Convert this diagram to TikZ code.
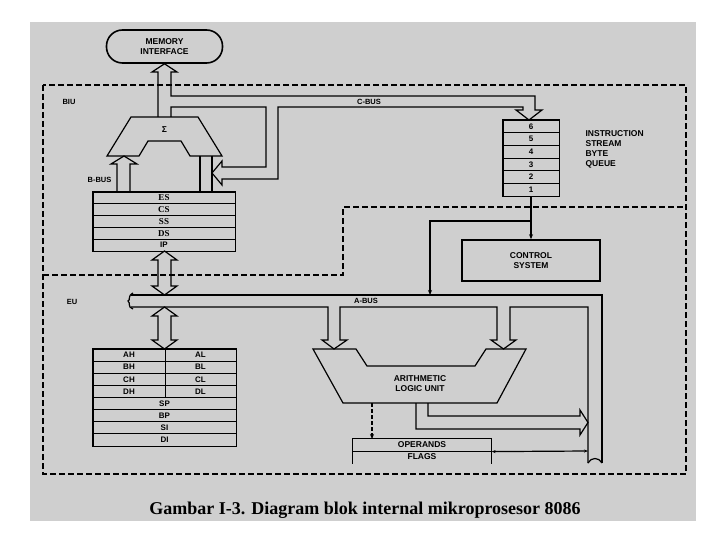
\documentclass[tikz,border=0pt]{standalone}
\usepackage{fontspec}
\setmainfont{Liberation Serif}
\setsansfont{Liberation Sans}
\usetikzlibrary{arrows.meta}
\definecolor{scanbg}{gray}{0.81}
\begin{document}
\begin{tikzpicture}[x=1pt,y=-1pt,line width=1.2pt,
    txt/.style={font=\sffamily\bfseries\fontsize{8.5}{10}\selectfont,inner sep=0pt,align=center},
    small/.style={font=\sffamily\bfseries\fontsize{7.5}{8}\selectfont,inner sep=0pt},
    reg/.style={draw,line width=0.8pt,inner sep=0pt,minimum height=11.8pt,font=\sffamily\bfseries\fontsize{8}{9}\selectfont},
    box/.style={draw,line width=1.6pt,inner sep=0pt,align=center,font=\sffamily\bfseries\fontsize{8.5}{10}\selectfont},
    arr/.style={-{Stealth[length=5pt,width=4pt]}},
    zone/.style={dash pattern=on 6pt off 3pt,line width=1.1pt}]
  \useasboundingbox (0,0) rectangle (720,540);
  \fill[scanbg] (30,22) rectangle (696,521);

  % BIU and EU
  \draw[zone] (43,85) rectangle (686,474);
  \draw[zone] (43,275) -- (343,275) -- (343,207) -- (686,207);
  \node[small] (biu) at (69,102) {BIU};
  \node[small] (eu) at (72,302) {EU};

  \node[box,rounded corners=16pt,minimum width=116pt,minimum height=33pt] (mem) at (164.5,46.5) {MEMORY\\INTERFACE};

  % adder
  \draw (131,117) -- (198,117) -- (222,156) -- (190,156) -- (181,141) -- (148,141) -- (139,156) -- (107,156) -- cycle;
  \node[txt] (sigma) at (164.5,130) {Σ};

  % segment registers
  \foreach \r [count=\i] in {ES,CS,SS,DS}
    \node[reg,font=\rmfamily\bfseries\fontsize{9}{9}\selectfont,minimum width=142pt] (\r) at (164,{186.1+11.8*\i}) {\r};
  \node[reg,minimum width=142pt] (IP) at (164,245.1) {IP};
  \draw[line width=1.6pt] (ES.north west) rectangle (IP.south east);

  % memory path and C-bus
  \draw (158,117) -- (158,72) -- (152,72) -- (mem.south) -- (177,72) -- (171,72) -- (171,96) -- (535,96) -- (535,110) -- (542,110) -- (529,120) -- (516,110) -- (523,110) -- (523,107) -- (278,107) -- (278,179) -- (222,179) -- (222,185) -- (212,173) -- (222,161) -- (222,167) -- (266,167) -- (266,107) -- (171,107) -- (171,117);
  \node[small] (cbus) at (369,101.5) {C-BUS};

  % B-bus
  \draw (117,191) -- (117,164) -- (111,164) -- (124,156) -- (137,164) -- (130,164) -- (130,191);
  \node[small,anchor=east] (bbus) at (112,180) {B-BUS};
  \draw (200,156) -- (200,191) (212,156) -- (212,191);

  % instruction queue
  \foreach \n [count=\i] in {6,5,4,3,2,1}
    \node[reg,minimum width=56pt,minimum height=12.67pt] (q\n) at (531,{113.67+12.67*\i}) {\n};
  \draw[line width=1.6pt] (q6.north west) rectangle (q1.south east);
  \node[txt,align=left,anchor=west] (queue) at (585,149) {INSTRUCTION\\STREAM\\BYTE\\QUEUE};

  \node[box,minimum width=138pt,minimum height=41pt] (ctrl) at (531,260.5) {CONTROL\\SYSTEM};
  \draw[arr] (q1.south) -- (ctrl.north);
  \draw[arr] (531,221) -| (430,295);

  % A-bus
  \draw (131,295) -- (602,295) -- (602,463);
  \draw (131,307) -- (328,307) -- (328,340) -- (322,340) -- (334,349) -- (347,340) -- (340,340) -- (340,307) -- (497,307) -- (497,340) -- (491,340) -- (503.5,349) -- (516,340) -- (510,340) -- (510,307) -- (588,307) -- (588,463);
  \draw (133,293) .. controls (127,296) and (131,300) .. (128,301) .. controls (131,303) and (127,307) .. (133,309);
  \draw (588,463) .. controls (591,457) and (599,457) .. (602,463);
  \node[small] (abus) at (366,301) {A-BUS};

  % register arrows
  \draw (164.5,251) -- (177,260) -- (171,260) -- (171,286) -- (177,286) -- (164.5,295) -- (152,286) -- (158,286) -- (158,260) -- (152,260) -- cycle;
  \draw (164.5,307) -- (177,316) -- (171,316) -- (171,340) -- (177,340) -- (164.5,349) -- (152,340) -- (158,340) -- (158,316) -- (152,316) -- cycle;

  % general registers
  \foreach \hi/\lo [count=\i] in {AH/AL,BH/BL,CH/CL,DH/DL} {
    \node[reg,minimum width=72pt,minimum height=12.1pt] (\hi) at (129,{342.94+12.125*\i}) {\hi};
    \node[reg,minimum width=71pt,minimum height=12.1pt] (\lo) at (200.5,{342.94+12.125*\i}) {\lo};
  }
  \foreach \r [count=\i from 5] in {SP,BP,SI,DI}
    \node[reg,minimum width=143pt,minimum height=12.1pt] (\r) at (164.5,{342.94+12.125*\i}) {\r};
  \draw[line width=1.6pt] (AH.north west) rectangle (DI.south east);

  % ALU
  \draw (313,349) -- (356,349) -- (367,366) -- (475,366) -- (486,349) -- (526,349) -- (497,403) -- (343,403) -- cycle;
  \node[txt] (alu) at (420,384) {ARITHMETIC\\LOGIC UNIT};
  \draw (416,403) -- (416,429) -- (580,429) -- (580,435) -- (588,422.5) -- (580,410) -- (580,416) -- (428,416) -- (428,403);

  % operands and flags
  \node[txt,minimum width=138pt,minimum height=12pt] (oper) at (422,445) {OPERANDS};
  \node[txt,minimum width=138pt,minimum height=12pt] (flags) at (422,457) {FLAGS};
  \draw[line width=1.6pt] (flags.south west) |- (oper.north east) -- (flags.south east);
  \draw[line width=1.2pt] (oper.south west) -- (oper.south east);
  \draw[arr,dash pattern=on 4pt off 2pt] (372,403) -- (372,439);
  \draw[{Stealth[length=4pt,width=3pt]}-{Stealth[length=4pt,width=3pt]}] (oper.south east) -- (588,451);

  \node[font=\rmfamily\bfseries\fontsize{18}{20}\selectfont,anchor=base] (caption) at (365,514) {Gambar I-3. Diagram blok internal mikroprosesor 8086};
\end{tikzpicture}
\end{document}
